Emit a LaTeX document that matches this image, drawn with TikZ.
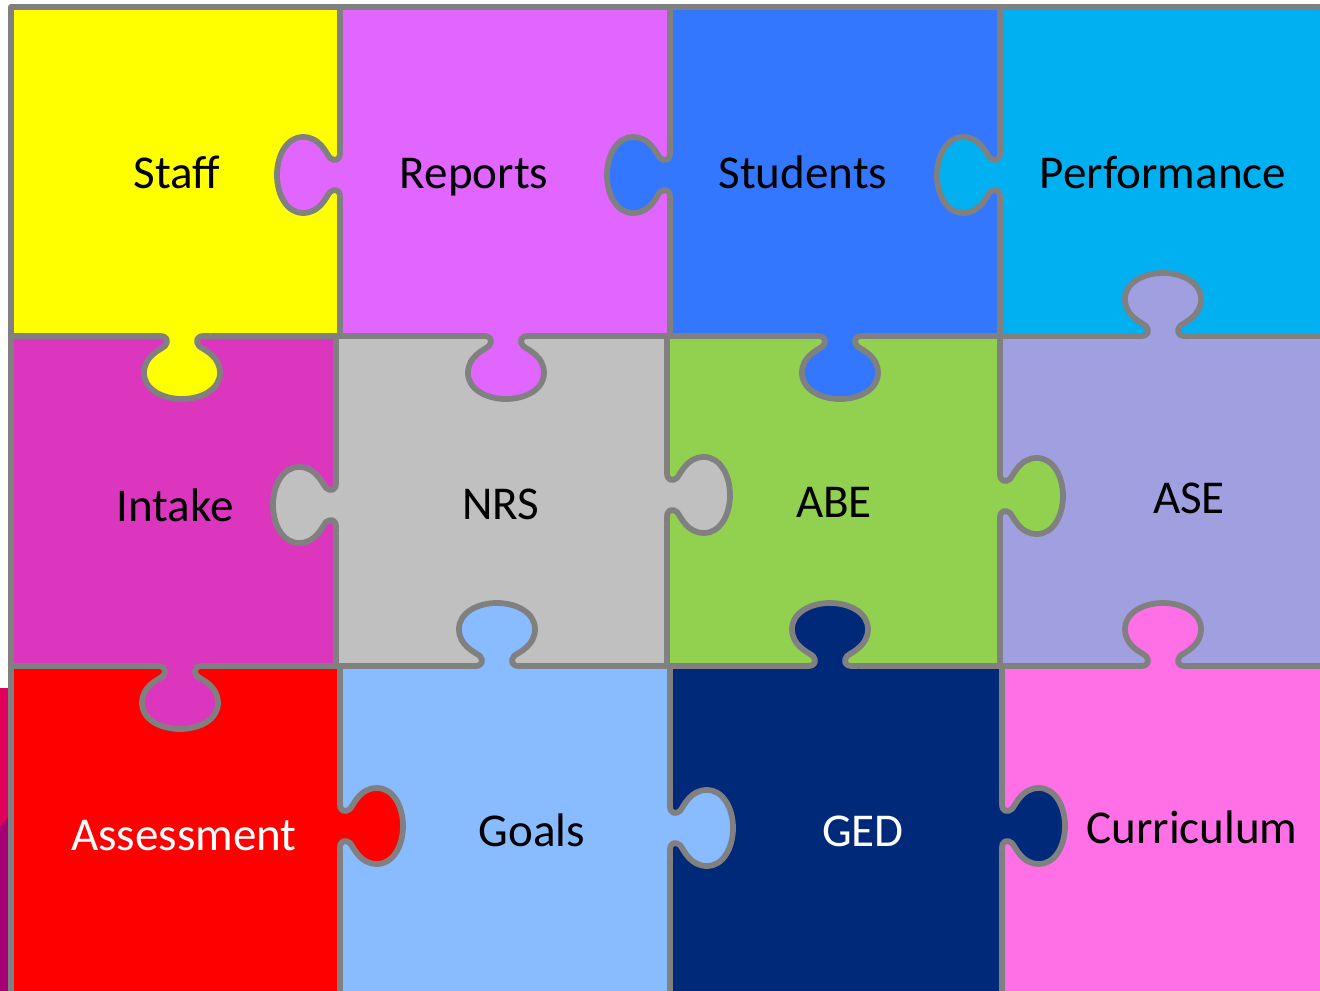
\documentclass[tikz,border=0pt]{standalone}
\usepackage{fontspec}
\setmainfont{Carlito}
\definecolor{staffc}{HTML}{FFFF00}
\definecolor{reportsc}{HTML}{E066FF}
\definecolor{studentsc}{HTML}{3377FF}
\definecolor{perfc}{HTML}{00B0F0}
\definecolor{intakec}{HTML}{DC36BE}
\definecolor{nrsc}{HTML}{C0C0C0}
\definecolor{abec}{HTML}{92D050}
\definecolor{asec}{HTML}{A0A0E0}
\definecolor{assessc}{HTML}{FF0000}
\definecolor{goalsc}{HTML}{88BBFF}
\definecolor{gedc}{HTML}{00297A}
\definecolor{currc}{HTML}{FF70E6}
\definecolor{edgec}{HTML}{808080}
\definecolor{stripa}{HTML}{E1005A}
\definecolor{stripb}{HTML}{A50073}
\tikzset{
  edge/.style={draw=edgec, line width=0.115cm, line join=round},
  lbl/.style={anchor=base, inner sep=0pt, font=\fontsize{26.8}{32}\selectfont}
}
% tab: centre x, centre y, rotation, colour of the piece that owns it
\newcommand{\puzzletab}[4]{%
  \begin{scope}[shift={(#1,#2)}, rotate=#3]
    \fill[#4] (-28,0) -- (-22,0) .. controls (-15,0) and (-13,5) .. (-17,10)
      .. controls (-22,14) and (-38,20) .. (-38,37)
      .. controls (-38,53) and (-20,63) .. (0,63)
      .. controls (20,63) and (38,53) .. (38,37)
      .. controls (38,20) and (22,14) .. (17,10)
      .. controls (13,5) and (15,0) .. (22,0) -- (28,0) -- (28,-8) -- (-28,-8) -- cycle;
    \draw[edge] (-28,0) -- (-22,0) .. controls (-15,0) and (-13,5) .. (-17,10)
      .. controls (-22,14) and (-38,20) .. (-38,37)
      .. controls (-38,53) and (-20,63) .. (0,63)
      .. controls (20,63) and (38,53) .. (38,37)
      .. controls (38,20) and (22,14) .. (17,10)
      .. controls (13,5) and (15,0) .. (22,0) -- (28,0);
  \end{scope}}
\begin{document}
\begin{tikzpicture}[x=0.02cm, y=-0.02cm]
  \useasboundingbox (0,0) rectangle (1320,991);
  \clip (0,0) rectangle (1320,991);
  \fill[white] (0,0) rectangle (1320,991);
  % strip at the left edge
  \fill[stripa] (0,688) rectangle (8,827);
  \fill[stripb] (0,827) -- (8,817) -- (8,991) -- (0,991) -- cycle;
  % pieces
  \fill[staffc] (11,7) rectangle (340,336);
  \fill[reportsc] (340,7) rectangle (670,336);
  \fill[studentsc] (670,7) rectangle (1000,336);
  \fill[perfc] (1000,7) rectangle (1330,336);
  \fill[intakec] (11,336) rectangle (336,666);
  \fill[nrsc] (336,336) rectangle (667,666);
  \fill[abec] (667,336) rectangle (1000,666);
  \fill[asec] (1000,336) rectangle (1330,666);
  \fill[assessc] (11,666) rectangle (340,1000);
  \fill[goalsc] (340,666) rectangle (670,1000);
  \fill[gedc] (670,666) rectangle (1002,1000);
  \fill[currc] (1002,666) rectangle (1330,1000);
  % grid lines
  \draw[edge] (1330,7) -- (11,7) -- (11,1000);
  \draw[edge] (11,336) -- (1330,336);
  \draw[edge] (11,666) -- (1330,666);
  \draw[edge] (340,7) -- (340,336) (670,7) -- (670,336) (1000,7) -- (1000,336);
  \draw[edge] (336,336) -- (336,666) (667,336) -- (667,666) (1000,336) -- (1000,666);
  \draw[edge] (340,666) -- (340,1000) (670,666) -- (670,1000) (1002,666) -- (1002,1000);
  % tabs
  \puzzletab{340}{175}{-90}{reportsc}
  \puzzletab{670}{175}{-90}{studentsc}
  \puzzletab{1000}{175}{-90}{perfc}
  \puzzletab{182}{336}{0}{staffc}
  \puzzletab{506}{336}{0}{reportsc}
  \puzzletab{840}{336}{0}{studentsc}
  \puzzletab{1163}{336}{180}{asec}
  \puzzletab{336}{505}{-90}{nrsc}
  \puzzletab{667}{495}{90}{nrsc}
  \puzzletab{1000}{496}{90}{abec}
  \puzzletab{180}{666}{0}{intakec}
  \puzzletab{497}{666}{180}{goalsc}
  \puzzletab{830}{666}{180}{gedc}
  \puzzletab{1163}{666}{180}{currc}
  \puzzletab{340}{826}{90}{assessc}
  \puzzletab{670}{828}{90}{goalsc}
  \puzzletab{1002}{826}{90}{gedc}
  % labels
  \node[lbl] (staff) at (177,188) {Staff};
  \node[lbl] (reports) at (474,188) {Reports};
  \node[lbl] (students) at (803,188) {Students};
  \node[lbl] (performance) at (1163,188) {Performance};
  \node[lbl] (intake) at (175,521) {Intake};
  \node[lbl] (nrs) at (501,519) {NRS};
  \node[lbl] (abe) at (834,517) {ABE};
  \node[lbl] (ase) at (1189,513) {ASE};
  \node[lbl, white] (assessment) at (184,850) {Assessment};
  \node[lbl] (goals) at (532,846) {Goals};
  \node[lbl, white] (ged) at (863,846) {GED};
  \node[lbl] (curriculum) at (1192,843) {Curriculum};
\end{tikzpicture}
\end{document}
